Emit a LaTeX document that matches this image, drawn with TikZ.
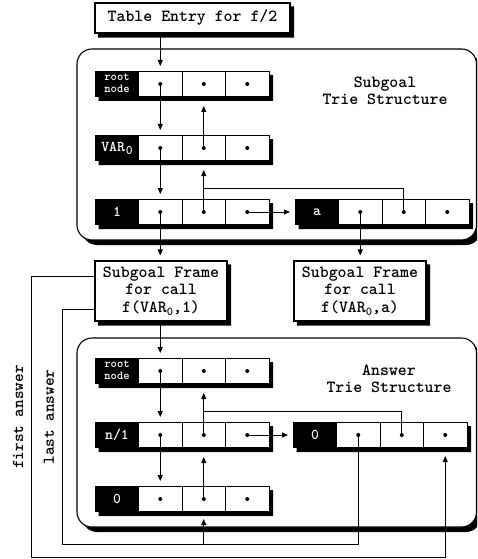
\documentclass[tikz,border=0pt]{standalone}
\usepackage{fontspec}
\usetikzlibrary{arrows.meta,calc}
\newcommand\subz{\raisebox{-3pt}{\fontsize{12}{12}\selectfont 0}}
% L-shaped drop shadow drawn after the nodes: #1 = left node, #2 = right node
\newcommand\lshadow[2]{%
  \path[fill=black]
    ([yshift=-4pt]#2.north east) -- ([shift={(3.5pt,-4pt)}]#2.north east)
    -- ([shift={(3.5pt,-4pt)}]#2.south east) -- ([shift={(3.5pt,-4pt)}]#1.south west)
    -- ([xshift=3.5pt]#1.south west) -- (#2.south east) -- cycle;}
\newcommand\trierow[4]{%
  \node[lab] (#1-l) at (#2,#3) {#4};
  \node[cell] (#1-a) at ({#2+43},#3) {};
  \node[cell] (#1-b) at ({#2+86.5},#3) {};
  \node[cell] (#1-c) at ({#2+130},#3) {};
  \lshadow{#1-l}{#1-c}
  \fill (#1-a.center) circle (2pt);
  \fill (#1-b.center) circle (2pt);
  \fill (#1-c.center) circle (2pt);
}
\tikzset{
  lab/.style={rectangle, fill=black, draw=black, line width=1pt, text=white, minimum width=43pt,
    minimum height=25pt, inner sep=0pt, anchor=north west, font=\ttfamily\bfseries\fontsize{15}{15}\selectfont},
  cell/.style={rectangle, draw=black, fill=white, line width=1pt, minimum width=43.5pt,
    minimum height=25pt, inner sep=0pt, anchor=north west},
  box/.style={rectangle, draw=black, fill=white, line width=1.1pt, inner sep=0pt,
    font=\ttfamily\bfseries\fontsize{17}{17.5}\selectfont},
  conn/.style={line width=0.9pt},
  arr/.style={conn, -{Triangle[length=6pt,width=5pt]}},
  txt/.style={font=\ttfamily\bfseries\fontsize{17}{16.5}\selectfont, align=center, inner sep=0pt},
  side/.style={rotate=90, inner sep=0pt, font=\ttfamily\bfseries\fontsize{16.5}{16.5}\selectfont},
  rbox/.style={rounded corners=15pt, line width=1.1pt}
}
\begin{document}
\begin{tikzpicture}[x=1pt,y=-1pt]
% rounded containers (right side runs into the picture's edge)
\begin{scope}
  \clip (0,0) rectangle (477,559);
  \path[rbox, fill=black] (82,54) rectangle (481,245);
  \draw[rbox, fill=white] (77,49) rectangle (476.5,240);
  \path[rbox, fill=black] (82,343) rectangle (481,532);
  \draw[rbox, fill=white] (77,338) rectangle (476.5,527);
\end{scope}

% table entry
\node[box, minimum width=195pt, minimum height=30pt] (te) at (192.5,18) {Table Entry for f/2};
\lshadow{te}{te}

% subgoal trie
\trierow{s1}{95}{71}{\fontsize{12}{12.5}\selectfont\begin{tabular}{@{}l@{}}root\\node\end{tabular}}
\trierow{s2}{95}{135}{VAR\kern1pt\raisebox{-3pt}{\fontsize{13}{13}\selectfont 0}}
\trierow{s3}{95}{199}{1}
\trierow{sa}{295}{199}{a}
\node[txt] (stl) at (385,91) {Subgoal\\Trie Structure};

% subgoal frames
\node[box, minimum width=132pt, minimum height=60pt, align=center] (lf) at (161,291) {Subgoal Frame\\for call\\f(VAR\subz,1)};
\lshadow{lf}{lf}
\node[box, minimum width=132pt, minimum height=60pt, align=center] (rf) at (360,291) {Subgoal Frame\\for call\\f(VAR\subz,a)};
\lshadow{rf}{rf}

% answer trie
\trierow{a1}{95}{358}{\fontsize{12}{12.5}\selectfont\begin{tabular}{@{}l@{}}root\\node\end{tabular}}
\trierow{a2}{95}{422}{n/1}
\trierow{a3}{95}{486}{0}
\trierow{ar}{293}{422}{0}
\node[txt] (atl) at (389,379) {Answer\\Trie Structure};

% side labels
\node[side] (fal) at (18,417) {first answer};
\node[side] (lal) at (49,417) {last answer};

% subgoal trie connectors
\draw[arr] (te.south -| s1-a.center) -- ([yshift=5pt]s1-a.north);
\draw[arr] (s1-a.center) -- ([yshift=5pt]s2-a.north);
\draw[arr] (s2-a.center) -- ([yshift=5pt]s3-a.north);
\draw[arr] (s2-b.center) -- ([yshift=-9pt]s1-b.south);
\draw[arr] (s3-b.center) -- ([yshift=-9pt]s2-b.south);
\draw[arr] (s3-c.center) -- ([xshift=-5pt]sa-l.west);
\path (s3-b.center) ++(0,-23.5) coordinate (j1);
\draw[conn] (sa-b.center) |- (j1);
\draw[arr] (s3-a.center) -- ([yshift=5pt]lf.north -| s3-a.center);
\draw[arr] (sa-a.center) -- ([yshift=5pt]rf.north -| sa-a.center);

% answer trie connectors
\draw[arr] (lf.south -| a1-a.center) -- ([yshift=5pt]a1-a.north);
\draw[arr] (a1-a.center) -- ([yshift=5pt]a2-a.north);
\draw[arr] (a2-a.center) -- ([yshift=5pt]a3-a.north);
\draw[arr] (a2-b.center) -- ([yshift=-9pt]a1-b.south);
\draw[arr] (a3-b.center) -- ([yshift=-9pt]a2-b.south);
\draw[arr] (a2-c.center) -- ([xshift=-5pt]ar-l.west);
\path (a2-b.center) ++(0,-23.5) coordinate (j2);
\draw[conn] (ar-b.center) |- (j2);

% answer pointers
\coordinate (la) at (62,544);
\coordinate (fa) at (31,557);
\draw[conn] ([yshift=-18pt]lf.west) -| (la) -| (ar-a.center);
\draw[arr] (a3-b.center |- la) -- ([yshift=-7pt]a3-b.south);
\draw[arr] ([yshift=15pt]lf.west) -| (fa) -| ([yshift=-8pt]ar-c.south);

\pgfresetboundingbox
\useasboundingbox (0,0) rectangle (477,559);
\end{tikzpicture}
\end{document}
